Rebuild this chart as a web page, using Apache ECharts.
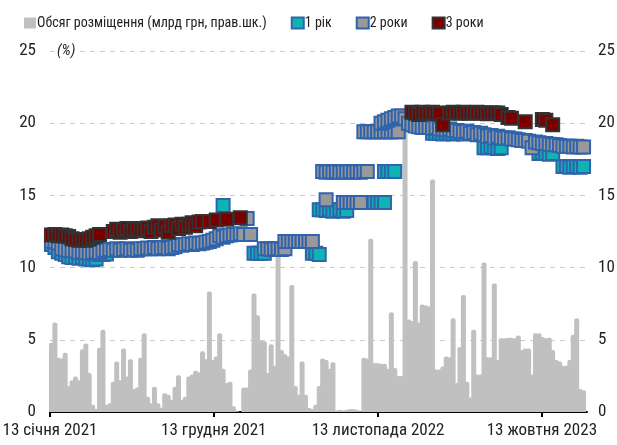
<!DOCTYPE html>
<html>
<head>
<meta charset="utf-8">
<script src="https://cdn.jsdelivr.net/npm/echarts@6/dist/echarts.min.js"></script>
<style>
  html, body { margin: 0; padding: 0; background: #fff; }
  #main { width: 617px; height: 445px; }
</style>
</head>
<body>
<div id="main"></div>
<script>
// axis labels (days from 13.01.2021)
const xTickDays = [0, 334, 669, 1003];
const xTickLabels = ['13 січня 2021', '13 грудня 2021', '13 листопада 2022', '13 жовтня 2023'];

// weekly auctions, first one 3 days after start
const firstAuctionDay = 3;
const auctionDay = k => firstAuctionDay + 7 * k;

// обсяг розміщення, млрд грн (one per week)
const volume = [
  4.8, 6.2, 3.75, 3.7, 4.1, 1.8, 2.2, 2.45, 2.2, 4.35, 4.75, 2.7, 0.5, 0.2, 4.45, 5.7, 0.5, 0.6, 2.1, 3.5,
  2.2, 4.4, 2.45, 3.65, 1.6, 1.7, 3.75, 5.45, 1.05, 0.6, 1.75, 0.6, 0.3, 1.3, 1.2, 0.85, 1.75, 2.55, 0.85,
  1.05, 2.45, 2.6, 2.85, 2.75, 4.2, 3.65, 8.35, 3.6, 3.85, 5.45, 3.0, 2.0, 2.1, 0.4, 0.05, 0, 1.7, 1.7, 2.95,
  8.2, 6.7, 4.95, 4.9, 2.7, 4.7, 3.2, 11, 4.3, 4.0, 3.85, 8.8, 1.8, 1.2, 3.5, 1.2, 0.3, 0.2, 0.5, 1.8,
  3.7, 3.6, 3.0, 3.45, 0.1, 0.15, 0.1, 0.15, 0.2, 0.2, 0.15, 0.05, 3.75, 3.7, 12.0, 3.4, 3.4, 3.35, 3.35, 3.0,
  6.9, 3.05, 2.5, 2.5, 19.5, 6.4, 6.3, 10.45, 6.2, 7.45, 7.4, 7.3, 16.1, 2.95, 2.95, 3.15, 3.85, 3.8,
  6.5, 2.0, 4.5, 8.1, 2.1, 1.0, 5.7, 2.6, 2.6, 10.35, 3.8, 3.8, 8.9, 3.6, 5.1, 5.1, 5.15, 5.15, 5.1, 5.3,
  4.3, 4.4, 4.4, 2.6, 5.45, 5.45, 5.2, 5.1, 5.15, 4.3, 3.6, 3.5, 3.2, 3.2, 3.6, 5.35, 6.5, 1.6, 1.5
];

// yields, % : [week, value]
const yield1 = [
  [0, 11.6], [1, 11.4], [2, 11.1], [3, 11.0], [4, 10.9], [5, 10.75], [6, 10.7], [7, 10.7], [8, 10.65], [9, 10.7],
  [10, 10.6], [11, 10.6], [12, 10.55], [13, 10.6], [14, 10.9], [15, 10.9], [16, 10.95],
  [50, 14.3],
  [59, 11.0], [60, 11.0], [61, 11.0], [62, 11.0],
  [76, 11.0], [77, 11.0], [78, 10.9],
  [78, 14.0], [79, 14.0], [80, 13.95], [81, 14.0], [82, 13.9], [83, 13.95], [84, 14.0], [85, 13.9], [86, 13.95],
  [92, 14.5], [93, 14.5], [94, 14.5], [95, 14.5], [96, 14.5], [97, 14.5],
  [97, 16.65], [98, 16.65], [99, 16.65], [100, 16.65],
  [111, 19.3], [112, 19.3], [113, 19.3], [114, 19.25], [115, 19.3], [116, 19.3], [117, 19.25], [118, 19.3], [119, 19.3], [120, 19.25],
  [126, 18.3], [127, 18.3], [128, 18.35], [129, 18.3], [130, 18.25], [131, 18.3],
  [142, 17.9], [143, 17.95], [144, 17.9], [145, 17.85], [146, 17.9],
  [149, 17.0], [150, 17.0], [151, 16.95], [152, 17.0], [153, 17.0], [154, 16.95], [155, 17.0]
];

const yield2 = [
  [0, 11.85], [1, 11.8], [2, 11.7], [3, 11.3], [4, 11.25], [5, 11.2], [6, 11.2], [7, 11.15], [8, 11.05], [9, 11.1],
  [10, 11.05], [11, 11.0], [12, 11.05], [13, 11.1], [14, 11.05], [15, 11.2], [16, 11.2], [17, 11.25], [18, 11.2], [19, 11.3],
  [20, 11.2], [21, 11.25], [22, 11.3], [23, 11.2], [24, 11.25], [25, 11.2], [26, 11.3], [27, 11.3], [28, 11.35], [29, 11.3],
  [30, 11.4], [31, 11.3], [32, 11.35], [33, 11.4], [34, 11.3], [35, 11.4], [36, 11.45], [37, 11.6], [38, 11.55], [39, 11.6],
  [40, 11.65], [41, 11.6], [42, 11.7], [43, 11.65], [44, 11.7], [45, 11.75], [46, 11.8], [47, 11.9], [48, 12.0], [49, 12.2],
  [50, 12.1], [51, 12.2], [52, 12.25], [53, 12.3], [54, 12.3], [55, 12.35], [56, 12.3], [57, 13.4], [58, 12.3],
  [62, 11.3], [63, 11.3], [64, 11.25], [65, 11.3], [66, 11.3], [67, 11.25], [68, 11.3],
  [68, 11.8], [69, 11.8], [70, 11.8], [71, 11.8], [72, 11.8], [73, 11.8], [74, 11.8], [75, 11.8], [76, 11.8],
  [79, 16.65], [80, 16.6], [81, 16.65], [82, 16.6], [83, 16.65], [84, 16.6], [85, 16.65], [86, 16.6], [87, 16.65],
  [88, 16.6], [89, 16.65], [90, 16.6], [91, 16.65], [92, 16.65],
  [80, 14.7], [85, 14.5], [86, 14.5], [87, 14.5], [88, 14.5], [89, 14.5], [90, 14.5],
  [91, 19.4], [92, 19.4], [93, 19.4], [94, 19.4], [95, 19.4], [96, 19.4], [97, 19.4], [98, 19.4], [99, 19.4], [100, 19.4], [101, 19.4],
  [96, 20.0], [97, 20.1], [98, 20.2], [99, 20.3], [100, 20.4], [101, 20.5],
  [102, 20.5], [103, 20.3], [104, 20.0], [105, 19.9], [106, 19.8], [107, 19.75], [108, 19.7], [109, 19.7],
  [110, 19.7], [111, 19.65], [112, 19.7], [113, 19.6], [114, 19.6], [115, 19.55], [116, 19.6], [117, 19.5], [118, 19.5], [119, 19.45],
  [120, 19.4], [121, 19.45], [122, 19.3], [123, 19.35], [124, 19.2], [125, 19.3], [126, 19.2], [127, 19.1], [128, 19.15], [129, 19.0],
  [130, 19.1], [131, 19.0], [132, 18.95], [133, 19.0], [134, 18.9], [135, 18.9], [136, 18.85], [137, 18.8], [138, 18.8], [139, 18.75],
  [140, 18.3], [141, 18.7], [142, 18.65], [143, 18.6], [144, 18.6], [145, 18.55], [146, 18.5], [147, 18.5], [148, 18.45], [149, 18.4],
  [150, 18.4], [151, 18.4], [152, 18.35], [153, 18.4], [154, 18.35], [155, 18.35]
];

const yield3 = [
  [0, 12.25], [1, 12.3], [2, 12.2], [3, 12.25], [4, 12.2], [5, 12.15], [6, 12.0], [7, 11.95], [8, 11.9], [9, 11.95],
  [10, 11.9], [11, 12.0], [12, 12.1], [13, 12.2], [14, 12.3],
  [18, 12.5], [19, 12.65], [20, 12.45], [21, 12.6], [22, 12.7], [23, 12.5], [24, 12.65], [25, 12.7], [26, 12.55], [27, 12.6],
  [28, 12.75], [29, 12.5], [30, 12.8], [31, 12.9], [32, 12.6], [33, 12.85], [34, 12.45], [35, 12.9], [36, 12.95], [37, 12.7],
  [38, 13.0], [39, 12.8], [40, 13.0], [41, 13.1], [42, 12.9], [43, 13.15], [44, 13.2], [46, 13.2], [48, 13.3], [51, 13.35], [55, 13.45],
  [105, 20.75], [106, 20.7], [107, 20.6], [108, 20.75], [109, 20.7], [110, 20.7], [111, 20.75], [112, 20.7], [113, 20.65], [114, 19.9],
  [116, 20.7], [117, 20.75], [118, 20.7], [119, 20.7], [120, 20.75], [121, 20.7], [122, 20.7], [123, 20.7], [124, 20.75], [125, 20.7],
  [126, 20.7], [127, 20.65], [128, 20.7], [129, 20.7], [130, 20.7], [131, 20.6], [133, 20.4], [134, 20.35], [138, 20.1],
  [143, 20.25], [144, 20.2], [146, 19.9]
];

const FONT = "'Liberation Sans Narrow', 'Arial Narrow', 'Roboto Condensed', sans-serif";
const TEXT = '#222';
const BLUE = '#2f63ad';

const chart = echarts.init(document.getElementById('main'), null, { renderer: 'canvas' });

const toPts = arr => arr.map(([k, v]) => [auctionDay(k), v]);

const yAxisBase = {
  type: 'value', min: 0, max: 25, interval: 5,
  axisLine: { show: false }, axisTick: { show: false },
  axisLabel: { color: TEXT, fontFamily: FONT, fontSize: 17 }
};

chart.setOption({
  animation: false,
  textStyle: { fontFamily: FONT },
  grid: { left: 50, right: 30, top: 51, bottom: 33, containLabel: false, outerBoundsMode: 'none' },
  legend: {
    left: 19, top: 11, itemWidth: 12, itemHeight: 11, itemGap: 24, icon: 'rect',
    textStyle: { color: TEXT, fontFamily: FONT, fontSize: 14, padding: [0, 0, 0, -4] },
    data: ['Обсяг розміщення (млрд грн, прав.шк.)', '1 рік', '2 роки', '3 роки']
  },
  xAxis: {
    type: 'value', min: 0, max: 1095,
    axisLine: { lineStyle: { color: '#000', width: 2 } },
    axisTick: { customValues: xTickDays, length: 5, inside: false, lineStyle: { color: '#000', width: 2 } },
    axisLabel: {
      customValues: xTickDays, color: TEXT, fontFamily: FONT, fontSize: 17, margin: 10,
      formatter: v => xTickLabels[xTickDays.indexOf(v)] || ''
    },
    splitLine: { show: false }
  },
  yAxis: [
    Object.assign({}, yAxisBase, {
      position: 'left',
      axisLabel: Object.assign({}, yAxisBase.axisLabel, { margin: 14 }),
      splitLine: { show: true, lineStyle: { color: '#c8c8c8', type: [5, 5], width: 1 } }
    }),
    Object.assign({}, yAxisBase, {
      position: 'right',
      axisLabel: Object.assign({}, yAxisBase.axisLabel, { margin: 11 }),
      splitLine: { show: false }
    })
  ],
  graphic: [{
    type: 'text', left: 55, top: 44, z: 10,
    style: {
      text: '(%)', fill: TEXT, font: 'italic 15px ' + FONT,
      backgroundColor: '#fff', padding: [0, 4, 0, 2]
    }
  }],
  series: [
    {
      name: 'Обсяг розміщення (млрд грн, прав.шк.)',
      type: 'bar', yAxisIndex: 1, barWidth: 5,
      itemStyle: { color: '#c0c0c0', borderRadius: [2, 2, 0, 0] },
      data: volume.map((v, k) => [auctionDay(k), v])
    },
    {
      name: '1 рік', type: 'scatter', yAxisIndex: 0, symbol: 'rect', symbolSize: 13,
      itemStyle: { color: '#0fb3b3', borderColor: BLUE, borderWidth: 2, opacity: 1 },
      data: toPts(yield1)
    },
    {
      name: '2 роки', type: 'scatter', yAxisIndex: 0, symbol: 'rect', symbolSize: 13,
      itemStyle: { color: '#999999', borderColor: BLUE, borderWidth: 2, opacity: 1 },
      data: toPts(yield2)
    },
    {
      name: '3 роки', type: 'scatter', yAxisIndex: 0, symbol: 'rect', symbolSize: 13,
      itemStyle: { color: '#7a0000', borderColor: '#333333', borderWidth: 2, opacity: 1 },
      data: toPts(yield3)
    }
  ]
});
</script>
</body>
</html>
